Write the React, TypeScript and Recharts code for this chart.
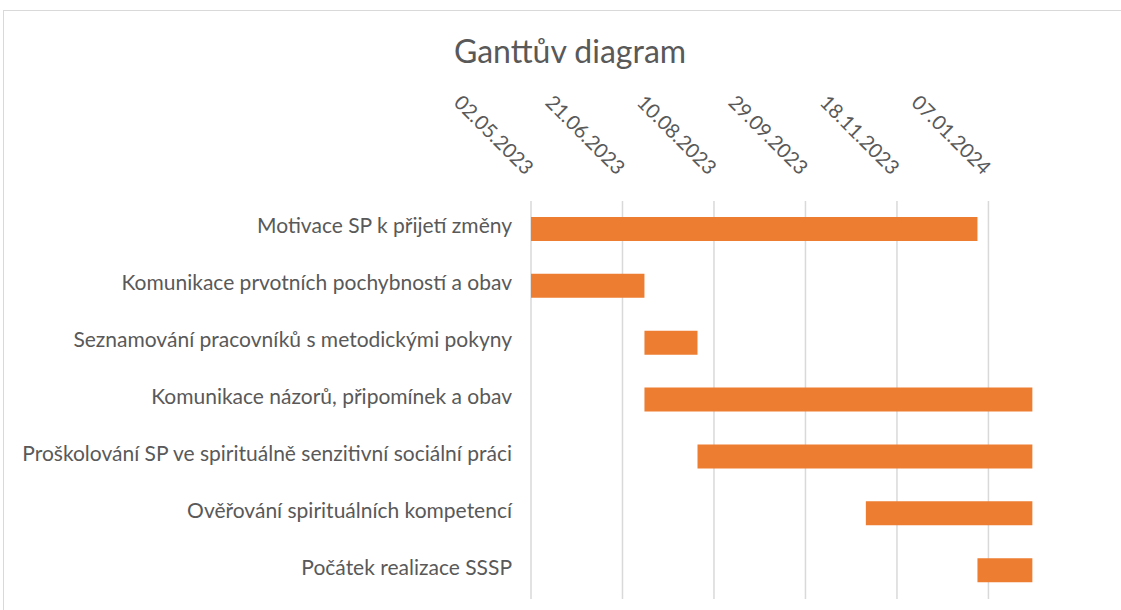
import { Bar, BarChart, CartesianGrid, XAxis, YAxis } from "recharts";

const TEXT = "#595959";
const GRID = "#d9d9d9";
const ORANGE = "#ed7d31";
const FONT = "Lato, 'Open Sans', sans-serif";

const tasks = [
  "Motivace SP k přijetí změny",
  "Komunikace prvotních pochybností a obav",
  "Seznamování pracovníků s metodickými pokyny",
  "Komunikace názorů, připomínek a obav ",
  "Proškolování SP ve spirituálně senzitivní sociální práci",
  "Ověřování spirituálních kompetencí",
  "Počátek realizace SSSP",
];
const starts = ["2023-05-02", "2023-05-02", "2023-07-03", "2023-07-03", "2023-08-01", "2023-11-01", "2024-01-01"];
const ends = ["2024-01-01", "2023-07-03", "2023-08-01", "2024-01-31", "2024-01-31", "2024-01-31", "2024-01-31"];
const tickDates = ["2023-05-02", "2023-06-21", "2023-08-10", "2023-09-29", "2023-11-18", "2024-01-07"];
const axisEnd = "2024-02-08";

const day = (s: string) => Date.parse(s + "T00:00:00Z") / 86400000;
const fmt = (d: number) => {
  const dt = new Date(d * 86400000);
  const p = (n: number) => String(n).padStart(2, "0");
  return `${p(dt.getUTCDate())}.${p(dt.getUTCMonth() + 1)}.${dt.getUTCFullYear()}`;
};

const data = tasks.map((name, i) => ({
  name,
  span: [day(starts[i]), day(ends[i])],
}));
const ticks = tickDates.map(day);
const domain = [ticks[0], day(axisEnd)];

function DateTick({ x, y, payload }: any) {
  const tx = x - 6;
  const ty = y - 17;
  return (
    <text
      x={tx}
      y={ty}
      transform={`rotate(45, ${tx}, ${ty})`}
      textAnchor="end"
      fill={TEXT}
      fontSize={20}
      fontFamily={FONT}
    >
      {fmt(payload.value)}
    </text>
  );
}

function TaskTick({ y, payload }: any) {
  return (
    <text x={512} y={y} dy={4} textAnchor="end" fill={TEXT} fontSize={21} fontFamily={FONT}>
      {payload.value}
    </text>
  );
}

// only the tick dates get a gridline, not the end of the domain
const gridX = ({ xAxis, offset }: any) =>
  ticks.map((t) =>
    xAxis && typeof xAxis.scale === "function"
      ? xAxis.scale(t)
      : offset.left + ((t - domain[0]) / (domain[1] - domain[0])) * offset.width
  );

export default function App() {
  return (
    <div style={{ position: "absolute", left: 0, top: 0, width: 1121, height: 610, overflow: "hidden", background: "#fff" }}>
      <div
        style={{
          position: "absolute",
          left: 3,
          top: 10,
          width: 1140,
          height: 640,
          border: `1.5px solid ${GRID}`,
        }}
      />
      <div
        style={{
          position: "absolute",
          left: 0,
          top: 31,
          width: 1140,
          textAlign: "center",
          color: TEXT,
          fontFamily: FONT,
          fontSize: 32,
        }}
      >
        Ganttův diagram
      </div>
      <div style={{ position: "absolute", left: 0, top: 0 }}>
        <BarChart
          layout="vertical"
          width={1121}
          height={610}
          data={data}
          barSize={24}
          margin={{ top: 171, right: 74, bottom: 11, left: 0 }}
        >
          <CartesianGrid horizontal={false} stroke={GRID} strokeWidth={1.5} verticalCoordinatesGenerator={gridX} />
          <XAxis
            type="number"
            orientation="top"
            height={30}
            domain={domain}
            allowDataOverflow
            ticks={ticks}
            interval={0}
            axisLine={false}
            tickLine={false}
            tick={<DateTick />}
          />
          <YAxis
            type="category"
            dataKey="name"
            width={531}
            axisLine={false}
            tickLine={false}
            interval={0}
            tick={<TaskTick />}
          />
          <Bar dataKey="span" fill={ORANGE} isAnimationActive={false} />
        </BarChart>
      </div>
    </div>
  );
}
